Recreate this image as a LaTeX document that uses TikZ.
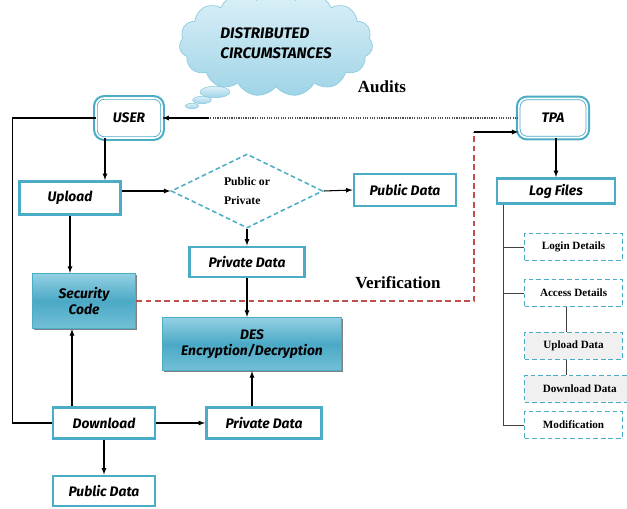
\documentclass[tikz,border=0pt]{standalone}
\usepackage{fontspec}
\setmainfont{Liberation Serif}
\newfontfamily\comicfont{Fira Sans}
\usepackage{xcolor}
\usepackage{tikz}
\usetikzlibrary{arrows,shapes,positioning,shadows}
\definecolor{boxcyan}{HTML}{4BACC6}
\definecolor{verired}{HTML}{C0504D}
\definecolor{proctop}{HTML}{93D1E4}
\definecolor{procmid}{HTML}{4BA9C6}
\definecolor{procbot}{HTML}{72C0D6}
\definecolor{cloudtop}{HTML}{DDF1F8}
\definecolor{cloudbot}{HTML}{9FD4E7}
\definecolor{cloudedge}{HTML}{8CCBDF}
\tikzset{
	basic/.style = {draw=boxcyan, rectangle, align=center, inner sep=2pt,
		font=\comicfont\bfseries\itshape\fontsize{11.8}{14}\selectfont},
	actor/.style = {basic, rounded corners=7pt, fill=white,
		preaction={draw=boxcyan, line width=5pt},
		double=white, line width=0.7pt, double distance=1.4pt},
	databox/.style = {basic, line width=2.2pt, fill=white},
	process/.style = {basic, line width=0.8pt, top color=proctop, bottom color=procbot,
		middle color=procmid,
		drop shadow={shadow xshift=1.3pt, shadow yshift=-1.3pt, fill=black!70, opacity=0.7}},
	decide/.style = {diamond, draw=boxcyan, line width=1.3pt, dash pattern=on 4pt off 2.5pt,
		inner sep=0pt, align=left, font=\bfseries\fontsize{10}{17}\selectfont},
	detail/.style = {draw=boxcyan, rectangle, line width=1.2pt, dash pattern=on 4pt off 2.5pt,
		anchor=west, fill=white, minimum width=2.93cm, minimum height=0.8cm,
		font=\bfseries\fontsize{9.5}{11}\selectfont},
	remark/.style = {font=\bfseries\fontsize{14.5}{16}\selectfont},
	thought/.style = {cloud, cloud puffs=15, cloud puff arc=115, cloud ignores aspect,
		inner sep=0pt, minimum width=5.8cm, minimum height=3.2cm,
		draw=cloudedge, line width=0.6pt,
		top color=cloudtop, bottom color=cloudbot, align=left,
		font=\comicfont\bfseries\itshape\fontsize{13}{17}\selectfont},
	bubble/.style = {draw=cloudedge, line width=0.5pt, top color=cloudtop, bottom color=cloudbot}
}

\begin{document}
\begin{tikzpicture}[x=0.03cm, y=-0.03cm, >=latex,
		arr/.style={->, line width=0.9pt},
		link/.style={line width=0.9pt},
		branch/.style={line width=0.8pt, black!75},
		verify/.style={verired, line width=1pt, dash pattern=on 5pt off 3pt}]
	\useasboundingbox (0,0) rectangle (627,508);
	% thought cloud
	\path[bubble] (192,106) ellipse [x radius=0.2cm, y radius=0.08cm];
	\path[bubble] (202,100) ellipse [x radius=0.28cm, y radius=0.11cm];
	\path[bubble] (215,92) ellipse [x radius=0.45cm, y radius=0.17cm];
	\node[thought] (cloud) at (276,43) {DISTRIBUTED\\CIRCUMSTANCES};
	\node[remark] (audits) at (382,87) {Audits};
	% user side
	\node[actor, minimum width=1.98cm, minimum height=1.2cm] (user) at (129,118) {USER};
	\node[databox, minimum width=3.04cm, minimum height=1cm] (upload) at (70,198) {Upload};
	\node[decide, minimum width=4.55cm, minimum height=2.12cm] (choice) at (247,191) {Public or\\Private};
	\node[databox, minimum width=3.07cm, minimum height=0.97cm] (pubup) at (405,190) {Public Data};
	\node[databox, minimum width=3.46cm, minimum height=0.91cm] (privup) at (247,262) {Private Data};
	\node[process, minimum width=3.1cm, minimum height=1.66cm] (secure) at (84,301) {Security\\Code};
	\node[process, minimum width=5.35cm, minimum height=1.6cm] (des) at (252,344) {DES\\Encryption/Decryption};
	\node[databox, minimum width=3.07cm, minimum height=0.94cm] (download) at (104,423) {Download};
	\node[databox, minimum width=3.46cm, minimum height=0.94cm] (privdown) at (264,423) {Private Data};
	\node[databox, minimum width=3.07cm, minimum height=0.91cm] (pubdown) at (104,491) {Public Data};
	\node[remark] (verif) at (398,283) {Verification};
	% auditor side
	\node[actor, minimum width=2.05cm, minimum height=1.17cm] (tpa) at (553,118) {TPA};
	\node[databox, minimum width=3.55cm, minimum height=0.76cm] (logs) at (556,191) {Log Files};
	\node[detail] (login) at (524,247) {Login Details};
	\node[detail] (access) at (524,293) {Access Details};
	\node[detail, fill=black!6] (updata) at (524,346) {Upload Data};
	\node[detail, fill=black!6, minimum width=3.3cm] (dndata) at (524,389) {Download Data};
	\node[detail] (modif) at (524,425) {Modification};

	% connectors
	\coordinate (ua) at ([xshift=-0.72cm]user.south);
	\draw[arr] (ua) -- (ua |- upload.north);
	\draw[link] (user.west) -- ++(-83,0) |- (download.west);
	\draw[arr] (upload.east |- choice.west) -- (choice.west);
	\draw[arr] (choice.east) -- (pubup.west);
	\draw[arr] (choice.south) -- (privup.north);
	\draw[arr] (privup.south) -- (privup.south |- des.north);
	\draw[arr] (upload.south) -- (upload.south |- secure.north);
	\coordinate (da) at ([xshift=-0.96cm]download.north);
	\draw[arr] (da) -- (da |- secure.south);
	\draw[arr] (download.east) -- (privdown.west);
	\draw[arr] (privdown.north -| des.south) -- (des.south);
	\draw[arr] (download.south) -- (pubdown.north);
	% audit and verification
	\draw[densely dotted, line width=1pt, black!70] (tpa.west) -- (user.east);
	\draw[arr] ([xshift=1.4cm]user.east) -- (user.east);
	\coordinate (vup) at (474,132);
	\draw[verify] (secure.east) -| (vup);
	\draw[arr] (vup) -- (vup -| tpa.west);
	\draw[arr] (logs.north |- tpa.south) -- (logs.north);
	% log file tree
	\coordinate (trunk) at ([xshift=0.24cm]logs.south west);
	\draw[branch] (trunk) |- (login.west);
	\draw[branch] (trunk) |- (access.west);
	\draw[branch] (trunk) |- (modif.west);
	\coordinate (ax) at ([xshift=1.26cm]access.south west);
	\draw[branch] (ax) -- (ax |- updata.north);
	\coordinate (ux) at ([xshift=1.26cm]updata.south west);
	\draw[branch] (ux) -- (ux |- dndata.north);
\end{tikzpicture}
\end{document}
